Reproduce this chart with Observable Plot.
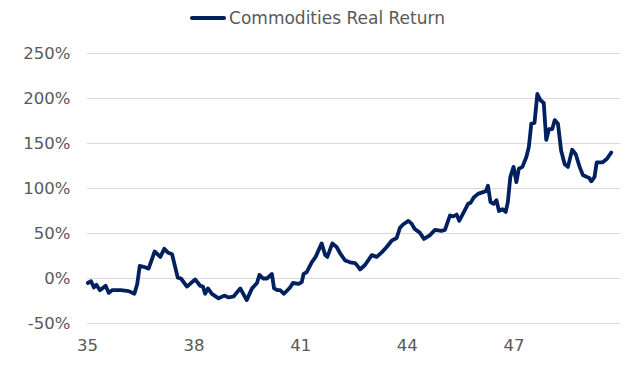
<!DOCTYPE html>
<html>
<head>
<meta charset="utf-8">
<script src="https://cdn.jsdelivr.net/npm/d3@7"></script>
<script src="https://cdn.jsdelivr.net/npm/@observablehq/plot@0.6"></script>
<style>
  html, body { margin: 0; padding: 0; background: #fff; }
  body { width: 635px; height: 385px; overflow: hidden; font-family: "DejaVu Sans", Verdana, sans-serif; }
  #legend { height: 36px; display: flex; align-items: center; justify-content: center; color: #595959; font-size: 17px; }
  #legend .sw { width: 36px; height: 4px; background: #002060; border-radius: 2px; margin-right: 3px; }
</style>
</head>
<body>
<div id="legend"><span class="sw"></span><span>Commodities Real Return</span></div>
<div id="chart"></div>
<script>
const seriesName = "Commodities Real Return";
const years = [35.01,35.10,35.18,35.25,35.35,35.51,35.60,35.69,35.93,36.16,36.32,36.40,36.47,36.58,36.72,36.89,37.05,37.16,37.26,37.38,37.54,37.63,37.80,38.03,38.17,38.25,38.31,38.39,38.50,38.69,38.85,38.97,39.11,39.30,39.48,39.63,39.77,39.84,39.94,40.05,40.19,40.25,40.35,40.42,40.53,40.70,40.78,40.94,41.03,41.08,41.17,41.31,41.42,41.59,41.69,41.75,41.89,42.01,42.11,42.25,42.39,42.53,42.58,42.67,42.81,43.00,43.14,43.28,43.42,43.56,43.70,43.79,43.88,44.03,44.12,44.21,44.35,44.47,44.63,44.78,44.96,45.06,45.20,45.29,45.39,45.46,45.62,45.71,45.78,45.87,45.99,46.13,46.21,46.27,46.34,46.43,46.51,46.58,46.68,46.77,46.83,46.90,46.99,47.07,47.14,47.24,47.35,47.42,47.49,47.58,47.66,47.75,47.84,47.91,47.99,48.08,48.15,48.24,48.33,48.43,48.52,48.64,48.74,48.85,48.94,49.04,49.11,49.18,49.27,49.33,49.41,49.49,49.62,49.74];
const values = [-5,-3,-10,-7,-13,-8,-16,-13,-13,-14,-17,-6,14,13,11,30,24,33,29,27,1,0,-9,-1,-8,-9,-17,-11,-17,-22,-19,-21,-20,-11,-24,-11,-5,4,0,0,5,-11,-13,-13,-17,-10,-5,-6,-4,5,7,18,24,39,26,24,39,35,28,20,18,17,15,10,15,26,24,29,35,42,45,56,60,64,61,55,51,44,48,54,53,54,70,69,71,64,76,83,84,90,94,96,97,103,85,83,87,75,77,74,85,113,124,107,122,124,135,146,172,173,205,198,195,154,166,166,176,172,142,127,124,143,138,124,115,113,112,108,113,129,129,129,133,140];
const xTicks = [35, 38, 41, 44, 47];
const yTicks = [-0.5, 0, 0.5, 1, 1.5, 2, 2.5];

const data = years.map((t, i) => ({t, v: values[i] / 100}));

const chart = Plot.plot({
  width: 635,
  height: 349,
  marginTop: 17,
  marginBottom: 62,
  marginLeft: 87,
  marginRight: 15,
  style: {fontFamily: "DejaVu Sans, Verdana, sans-serif", fontSize: "16.5px", color: "#595959", background: "#fff"},
  x: {domain: [35, 50]},
  y: {domain: [-0.5, 2.5]},
  marks: [
    Plot.gridY(yTicks, {stroke: "#d9d9d9", strokeOpacity: 1, strokeWidth: 1}),
    Plot.axisY(yTicks, {tickSize: 0, tickPadding: 17, tickFormat: d => Math.round(d * 100) + "%", label: null, fill: "#595959"}),
    Plot.axisX(xTicks, {tickSize: 0, tickPadding: 16, tickFormat: d => String(d), label: null, fill: "#595959"}),
    Plot.line(data, {x: "t", y: "v", stroke: "#002060", strokeWidth: 3.8, strokeLinejoin: "round", strokeLinecap: "round"})
  ]
});
document.getElementById("chart").appendChild(chart);
</script>
</body>
</html>
